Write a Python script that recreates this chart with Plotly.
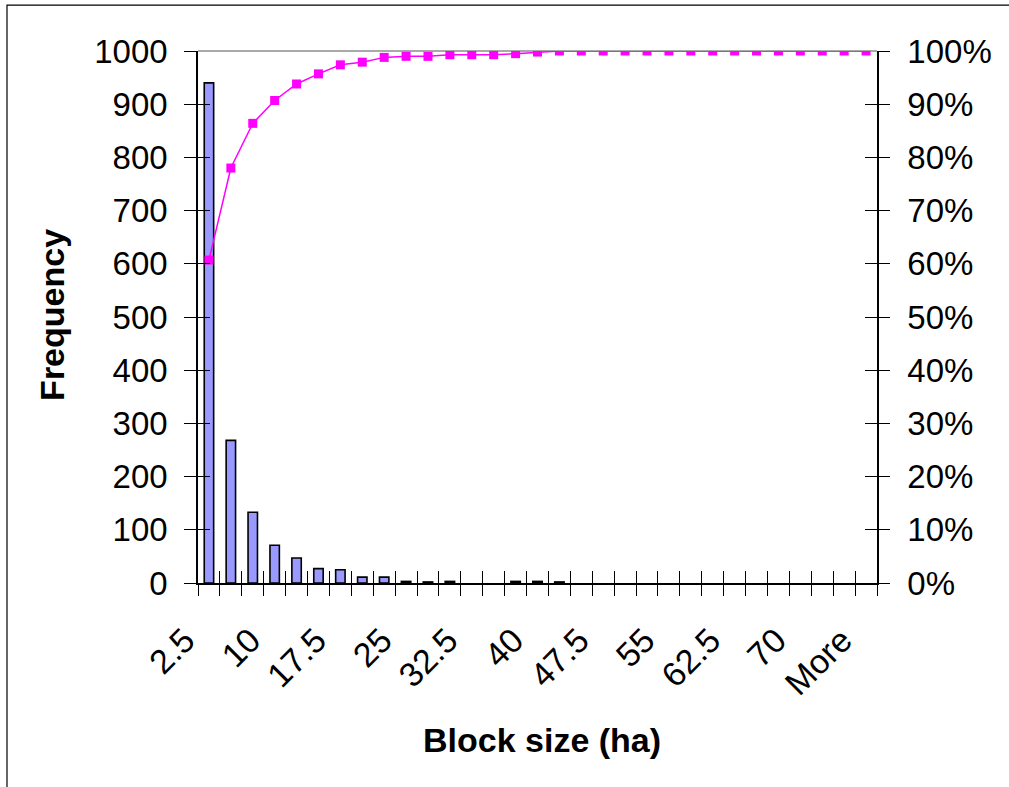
import plotly.graph_objects as go

# ---- data ----
categories = ["2.5", "5", "7.5", "10", "12.5", "15", "17.5", "20", "22.5", "25",
              "27.5", "30", "32.5", "35", "37.5", "40", "42.5", "45", "47.5", "50",
              "52.5", "55", "57.5", "60", "62.5", "65", "67.5", "70", "72.5", "75", "More"]
frequency = [940, 268, 133, 71, 47, 27, 25, 11, 11, 3,
             2, 3, 0, 0, 3, 3, 2, 0, 0, 0,
             0, 0, 0, 0, 0, 0, 0, 0, 0, 0, 0]
cumulative_pct = [60.7, 78.0, 86.4, 90.7, 93.8, 95.7, 97.4, 97.9, 98.8, 99.0,
                  99.0, 99.3, 99.3, 99.3, 99.5, 99.8, 100, 100, 100, 100,
                  100, 100, 100, 100, 100, 100, 100, 100, 100, 100, 100]
shown_labels = ["2.5", "10", "17.5", "25", "32.5", "40", "47.5", "55", "62.5", "70", "More"]
freq_ticks = [0, 100, 200, 300, 400, 500, 600, 700, 800, 900, 1000]
pct_ticks = [0, 10, 20, 30, 40, 50, 60, 70, 80, 90, 100]

FONT = "Liberation Sans, Arial, sans-serif"
TICKSIZE = 33
XTICKSIZE = 34
TITLESIZE = 34

fig = go.Figure()
# frequency bars (no outline on empty bins)
fig.add_trace(go.Bar(
    x=categories, y=frequency, xaxis="x", yaxis="y", width=0.43,
    marker=dict(color="#9999FF",
                line=dict(color="black", width=[1.6 if v > 0 else 0 for v in frequency])),
    showlegend=False, name="Frequency"))
# cumulative percentage line
fig.add_trace(go.Scatter(
    x=categories, y=cumulative_pct, xaxis="x2", yaxis="y2",
    mode="lines+markers", line=dict(color="#FF00FF", width=1.5),
    marker=dict(symbol="square", size=9, color="#FF00FF"),
    showlegend=False, name="Cumulative %"))
# invisible helpers so the tick-only overlay axes get drawn
fig.add_trace(go.Scatter(x=categories, y=frequency, xaxis="x3", yaxis="y3",
                         mode="none", hoverinfo="skip", showlegend=False))
fig.add_trace(go.Scatter(x=categories, y=cumulative_pct, xaxis="x3", yaxis="y4",
                         mode="none", hoverinfo="skip", showlegend=False))

xrange = [-0.5, len(categories) - 0.5]
common_x = dict(type="category", categoryorder="array", categoryarray=categories,
                range=xrange, showgrid=False, zeroline=False, fixedrange=True)
tick_style = dict(ticklen=12, tickwidth=1.2, tickcolor="black")

fig.update_layout(
    width=1009, height=787,
    margin=dict(l=198, r=132, t=51, b=204),
    paper_bgcolor="white", plot_bgcolor="white",
    font=dict(family=FONT, color="black", size=TICKSIZE),
    xaxis=dict(**common_x, anchor="y", side="bottom", ticks="",
               tickmode="array", tickvals=shown_labels, ticktext=shown_labels,
               tickangle=-45, ticklabelstandoff=22, ticklabelshift=-24,
               tickfont=dict(size=XTICKSIZE, family=FONT),
               showline=True, linecolor="black", linewidth=1.5),
    xaxis2=dict(**common_x, overlaying="x", anchor="y", side="bottom",
                tickmode="linear", tick0=0, dtick=1, tickson="boundaries",
                ticks="outside", **tick_style, showticklabels=False, showline=False),
    xaxis3=dict(**common_x, overlaying="x", anchor="y", side="bottom",
                tickmode="linear", tick0=0, dtick=1, tickson="boundaries",
                ticks="inside", **tick_style, showticklabels=False, showline=False),
    yaxis=dict(range=[0, 1000], tickmode="array", tickvals=freq_ticks,
               ticks="outside", **tick_style, ticklabelstandoff=10,
               showline=True, linecolor="black", linewidth=1.5, showgrid=False,
               zeroline=False, anchor="x", side="left",
               tickfont=dict(size=TICKSIZE, family=FONT)),
    yaxis3=dict(range=[0, 1000], tickmode="array", tickvals=freq_ticks,
                ticks="inside", **tick_style, showticklabels=False,
                showgrid=False, zeroline=False, overlaying="y", anchor="x3",
                side="left", showline=False),
    yaxis2=dict(range=[0, 100], tickmode="array", tickvals=pct_ticks,
                ticktext=[f"{v}%" for v in pct_ticks],
                ticks="inside", **tick_style, ticklabelstandoff=22,
                showline=True, linecolor="black", linewidth=1.5, showgrid=False,
                zeroline=False, overlaying="y", anchor="x2", side="right",
                tickfont=dict(size=TICKSIZE, family=FONT)),
    yaxis4=dict(range=[0, 100], tickmode="array", tickvals=pct_ticks,
                ticks="outside", **tick_style, showticklabels=False,
                showgrid=False, zeroline=False, overlaying="y", anchor="x3",
                side="right", showline=False),
    annotations=[
        dict(text="<b>Block size (ha)</b>", xref="paper", yref="paper",
             x=0.5066, y=-0.296, xanchor="center", yanchor="middle",
             showarrow=False, font=dict(size=TITLESIZE, family=FONT)),
        dict(text="<b>Frequency</b>", xref="paper", yref="paper",
             x=-0.215, y=0.504, xanchor="center", yanchor="middle",
             textangle=-90, showarrow=False, font=dict(size=TITLESIZE, family=FONT)),
    ],
    shapes=[
        # outer chart frame (only top and left edges fall inside the picture)
        dict(type="rect", xref="paper", yref="paper",
             x0=-0.2813, x1=1.5, y0=-1.0, y1=1.0864,
             line=dict(color="black", width=1.2), fillcolor="rgba(0,0,0,0)",
             layer="below"),
        # grey plot-area border along the top
        dict(type="line", xref="paper", yref="paper", x0=0, x1=1, y0=1, y1=1,
             line=dict(color="#8c8c8c", width=1.5), layer="below"),
    ],
)

fig.write_html("out.html")
